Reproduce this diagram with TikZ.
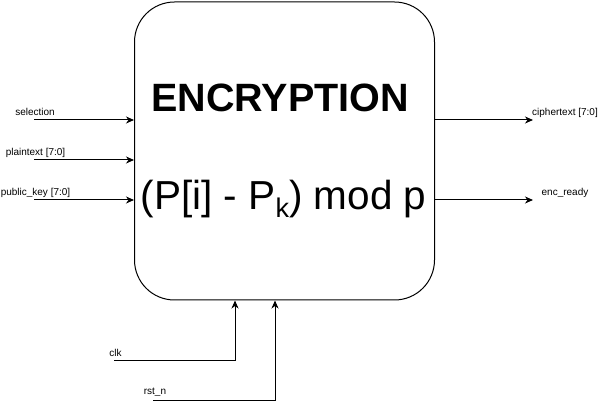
\documentclass[tikz,border=0pt]{standalone}
\usepackage{fontspec}
\setmainfont{Liberation Sans}
\usetikzlibrary{arrows.meta}
\tikzset{
  sig/.style={draw=black, line width=1pt, -{Stealth[length=8pt,width=7pt,inset=2.5pt]}},
  lbl/.style={font=\fontsize{10}{12}\selectfont, anchor=base, inner sep=0pt},
  block/.style={draw=black, line width=1pt, rounded corners=40pt, minimum width=300pt, minimum height=298pt, inner sep=0pt},
}
\begin{document}
\begin{tikzpicture}[x=1pt,y=-1pt]
\useasboundingbox (0,0) rectangle (598,409);
\node[block] (box) at (284.5,151) {};
\node[font=\bfseries\fontsize{39.5}{42}\selectfont, anchor=base, inner sep=0pt] (title) at (280,112) {ENCRYPTION};
\node[font=\fontsize{40.5}{44}\selectfont, anchor=base, inner sep=0pt] (formula) at (283.5,210) {(P[i] - P\raisebox{-8pt}{\fontsize{27}{27}\selectfont k}) mod p};
% inputs
\node[lbl] (lsel) at (35,116) {selection};
\node[lbl] (lpt) at (35.5,156) {plaintext [7:0]};
\node[lbl] (lpk) at (35.5,196) {public\_key [7:0]};
\coordinate (sel) at (34,120);
\coordinate (pt) at (34,160);
\coordinate (pk) at (34,200);
\draw[sig] (sel) -- (sel -| box.west);
\draw[sig] (pt) -- (pt -| box.west);
\draw[sig] (pk) -- (pk -| box.west);
% outputs
\node[lbl] (lct) at (565,116) {ciphertext [7:0]};
\node[lbl] (ler) at (565,196) {enc\_ready};
\coordinate (ct) at (533,120);
\coordinate (er) at (533,200);
\draw[sig] (ct -| box.east) -- (ct);
\draw[sig] (er -| box.east) -- (er);
% clock and reset
\node[lbl] (lclk) at (115.5,356) {clk};
\node[lbl] (lrst) at (155,395) {rst\_n};
\coordinate (clk) at (114,360);
\coordinate (clkc) at (235,360);
\coordinate (rst) at (153,400);
\coordinate (rstc) at (275,400);
\draw[sig] (clk) -- (clkc) -- (clkc |- box.south);
\draw[sig] (rst) -- (rstc) -- (rstc |- box.south);
\end{tikzpicture}
\end{document}
